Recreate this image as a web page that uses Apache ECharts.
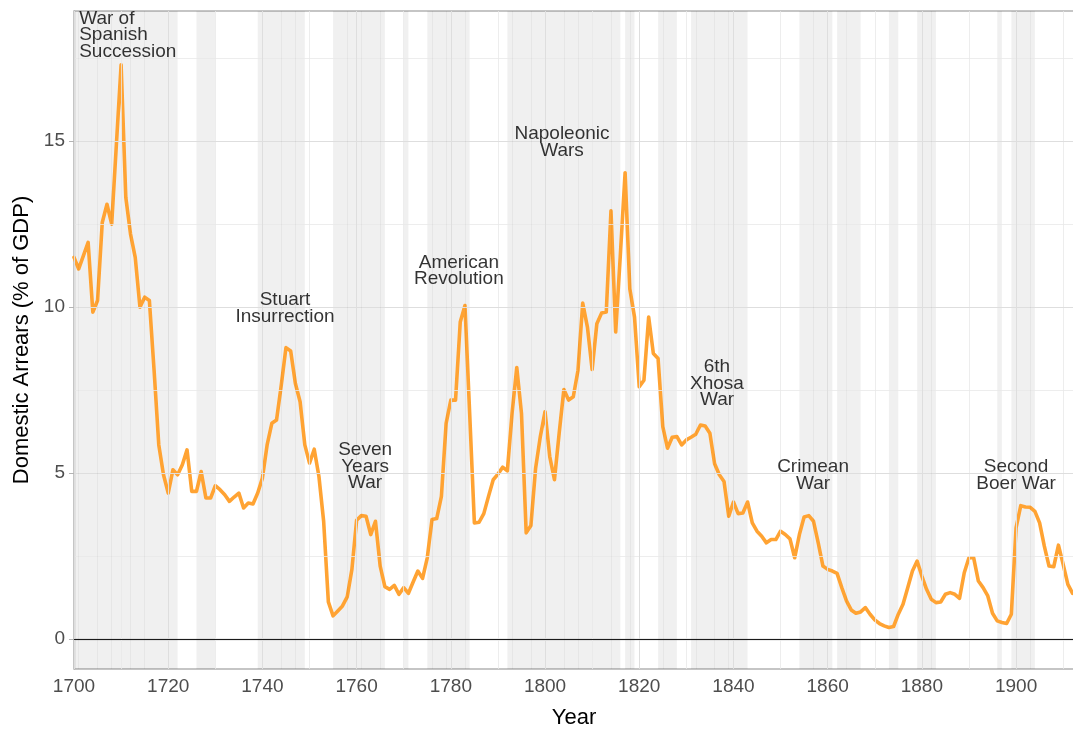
<!DOCTYPE html>
<html>
<head>
<meta charset="utf-8">
<script src="https://cdn.jsdelivr.net/npm/echarts@6/dist/echarts.min.js"></script>
<style>
  html, body { margin: 0; padding: 0; background: #fff; }
  #chart { width: 1073px; height: 729px; }
</style>
</head>
<body>
<div id="chart"></div>
<script>
const FIRST_YEAR = 1700

// domestic arrears, % of GDP, one value per year from 1700
const arrears = [
  11.5, 11.15, 11.55, 11.95, 9.85, 10.2, 12.55, 13.1, 12.5, 14.9,      // 1700s
  17.3, 13.3, 12.2, 11.5, 10.0, 10.3, 10.2, 8.1, 5.85, 4.95,           // 1710s
  4.4, 5.1, 4.95, 5.25, 5.7, 4.45, 4.45, 5.05, 4.25, 4.25,             // 1720s
  4.62, 4.5, 4.35, 4.15, 4.28, 4.4, 3.95, 4.1, 4.07, 4.4,              // 1730s
  4.85, 5.85, 6.5, 6.6, 7.65, 8.78, 8.68, 7.7, 7.15, 5.85,             // 1740s
  5.3, 5.72, 4.9, 3.55, 1.12, 0.7, 0.85, 1.0, 1.27, 2.1,               // 1750s
  3.58, 3.72, 3.7, 3.15, 3.55, 2.2, 1.58, 1.5, 1.62, 1.35,             // 1760s
  1.55, 1.38, 1.72, 2.05, 1.83, 2.45, 3.6, 3.63, 4.3, 6.5,             // 1770s
  7.2, 7.2, 9.55, 10.05, 6.8, 3.5, 3.52, 3.78, 4.3, 4.8,               // 1780s
  4.97, 5.18, 5.07, 6.8, 8.18, 6.8, 3.2, 3.42, 5.15, 6.1,              // 1790s
  6.85, 5.5, 4.8, 6.2, 7.52, 7.2, 7.3, 8.1, 10.12, 9.4,                // 1800s
  8.12, 9.5, 9.82, 9.85, 12.9, 9.25, 11.6, 14.05, 10.55, 9.7,          // 1810s
  7.6, 7.8, 9.7, 8.6, 8.45, 6.4, 5.75, 6.08, 6.1, 5.85,                // 1820s
  6.0, 6.08, 6.17, 6.45, 6.42, 6.2, 5.28, 4.95, 4.75, 3.7,             // 1830s
  4.13, 3.78, 3.8, 4.13, 3.5, 3.25, 3.1, 2.9, 3.0, 3.0,                // 1840s
  3.25, 3.15, 3.02, 2.45, 3.15, 3.68, 3.72, 3.55, 2.9, 2.2,            // 1850s
  2.1, 2.05, 1.98, 1.55, 1.15, 0.88, 0.78, 0.82, 0.95, 0.75,           // 1860s
  0.58, 0.47, 0.4, 0.35, 0.38, 0.75, 1.05, 1.55, 2.05, 2.35,           // 1870s
  1.9, 1.5, 1.2, 1.1, 1.12, 1.35, 1.4, 1.35, 1.23, 2.0,                // 1880s
  2.45, 2.45, 1.75, 1.55, 1.3, 0.78, 0.55, 0.5, 0.47, 0.75,            // 1890s
  3.35, 4.02, 3.98, 3.97, 3.85, 3.5, 2.8, 2.2, 2.18, 2.83,             // 1900s
  2.25, 1.65, 1.38                                                     // 1910s
]
const years = arrears.map((_, i) => FIRST_YEAR + i)

// years at war (shaded)
const wars = [
  [1700, 1722], [1726, 1730], [1739, 1749], [1755, 1766], [1770, 1771],
  [1775, 1784], [1792, 1816], [1817, 1819], [1824, 1828], [1831, 1843],
  [1854, 1861], [1862, 1864], [1864, 1867], [1873, 1875], [1879, 1883],
  [1896, 1897], [1899, 1904]
]
// faint seams inside the shading where one conflict hands over to the next
const seams = [
  1701, 1705, 1708, 1712, 1715, 1744, 1747, 1758, 1761, 1765, 1776, 1779, 1783,
  1793, 1797, 1804, 1807, 1814, 1818, 1825, 1832, 1836, 1839, 1857, 1864, 1882, 1903
]

const xTicks = [1700, 1720, 1740, 1760, 1780, 1800, 1820, 1840, 1860, 1880, 1900]
const xMinor = [1710, 1730, 1750, 1770, 1790, 1810, 1830, 1850, 1870, 1890, 1910]
const yTicks = [0, 5, 10, 15]
const yMinor = [2.5, 7.5, 12.5, 17.5]

const notes = [
  { text: 'War of\nSpanish\nSuccession', year: 1701.1, value: 18.2, left: true },
  { text: 'Stuart\nInsurrection', year: 1744.8, value: 9.97 },
  { text: 'Seven\nYears\nWar', year: 1761.8, value: 5.2 },
  { text: 'American\nRevolution', year: 1781.7, value: 11.1 },
  { text: 'Napoleonic\nWars', year: 1803.6, value: 14.97 },
  { text: '6th\nXhosa\nWar', year: 1836.5, value: 7.7 },
  { text: 'Crimean\nWar', year: 1856.9, value: 4.94 },
  { text: 'Second\nBoer War', year: 1900, value: 4.94 }
]

const FONT = '"Liberation Sans", Arial, Helvetica, sans-serif'
const major = { color: '#dedede', width: 1, type: 'solid' }
const minor = { color: '#e9e9e9', width: 0.8, type: 'solid' }
const seam = { color: 'rgba(0,0,0,0.045)', width: 1, type: 'solid' }

const chart = echarts.init(document.getElementById('chart'))
chart.setOption({
  animation: false,
  textStyle: { fontFamily: FONT },
  grid: {
    left: 74, right: -1, top: 11, bottom: 60,
    outerBoundsMode: 'none', containLabel: false,
    show: true, borderColor: '#b3b3b3', borderWidth: 1.4
  },
  xAxis: {
    type: 'value', min: 1700, max: 1912.3,
    name: 'Year', nameLocation: 'middle', nameGap: 38,
    nameTextStyle: { color: '#000', fontSize: 22, fontFamily: FONT },
    axisLine: { lineStyle: { color: '#b3b3b3', width: 1.4 } },
    axisTick: { customValues: xTicks, length: 5, lineStyle: { color: '#b3b3b3' } },
    axisLabel: {
      customValues: xTicks, color: '#4d4d4d', fontSize: 19, margin: 8,
      formatter: v => String(v)
    },
    splitLine: { show: false }
  },
  yAxis: {
    type: 'value', min: -0.9, max: 18.92,
    name: 'Domestic Arrears (% of GDP)', nameLocation: 'middle', nameGap: 41,
    nameTextStyle: { color: '#000', fontSize: 22, fontFamily: FONT },
    axisLine: { show: true, lineStyle: { color: '#b3b3b3', width: 1.4 } },
    axisTick: { show: true, customValues: yTicks, length: 5, lineStyle: { color: '#b3b3b3' } },
    axisLabel: { customValues: yTicks, color: '#4d4d4d', fontSize: 19, margin: 9 },
    splitLine: { show: false }
  },
  series: [
    {
      // grid lines
      type: 'line', data: [], z: 1, silent: true,
      markLine: {
        silent: true, symbol: 'none', label: { show: false }, animation: false,
        data: [
          ...xMinor.map(v => ({ xAxis: v, lineStyle: minor })),
          ...yMinor.map(v => ({ yAxis: v, lineStyle: minor })),
          ...xTicks.map(v => ({ xAxis: v, lineStyle: major })),
          ...yTicks.map(v => ({ yAxis: v, lineStyle: major }))
        ]
      }
    },
    {
      // war shading
      type: 'line', data: [], z: 2, silent: true,
      markArea: {
        silent: true,
        itemStyle: { color: 'rgba(0,0,0,0.058)', borderWidth: 0 },
        data: wars.map(([a, b]) => [{ xAxis: a }, { xAxis: b }])
      }
    },
    {
      // seams and the zero line
      type: 'line', data: [], z: 3, silent: true,
      markLine: {
        silent: true, symbol: 'none', label: { show: false }, animation: false,
        data: [
          ...seams.map(v => ({ xAxis: v, lineStyle: seam })),
          { yAxis: 0, lineStyle: { color: '#1a1a1a', width: 1, type: 'solid' } }
        ]
      }
    },
    {
      type: 'line', z: 4, symbol: 'none',
      data: years.map((y, i) => [y, arrears[i]]),
      lineStyle: { color: '#ffa333', width: 3.6, cap: 'round', join: 'round' }
    },
    {
      type: 'scatter', z: 5, symbolSize: 0, silent: true,
      data: notes.map(n => ({
        value: [n.year, n.value],
        label: { align: n.left ? 'left' : 'center' }
      })),
      label: {
        show: true, position: [0, 0], verticalAlign: 'middle',
        color: '#000', fontSize: 19, lineHeight: 16.5, fontFamily: FONT,
        formatter: p => notes[p.dataIndex].text
      }
    }
  ]
})
</script>
</body>
</html>
